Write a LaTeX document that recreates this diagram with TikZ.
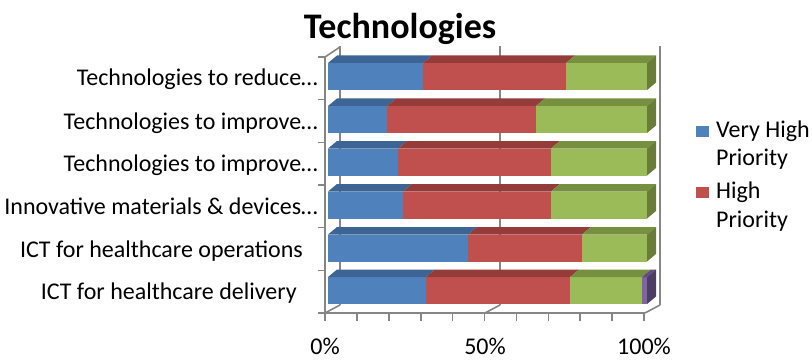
\documentclass[tikz,border=0pt]{standalone}
\usepackage{fontspec}
\setmainfont{Carlito}
\definecolor{cb}{HTML}{4F81BD}
\definecolor{cbtop}{HTML}{3C6494}
\definecolor{cr}{HTML}{C0504D}
\definecolor{crtop}{HTML}{953B39}
\definecolor{cg}{HTML}{9BBB59}
\definecolor{cgtop}{HTML}{76903F}
\definecolor{cgside}{HTML}{677D38}
\definecolor{cp}{HTML}{8064A2}
\definecolor{cptop}{HTML}{624C7E}
\definecolor{cpside}{HTML}{4D3C63}
\definecolor{axgray}{HTML}{868686}
\newcommand\barseg[4]{%
  \pgfmathsetmacro\bsxa{328+3.19*#2}%
  \pgfmathsetmacro\bsxb{328+3.19*#3}%
  \fill[#4] (\bsxa,#1) rectangle (\bsxb,#1+27);
  \fill[#4top] (\bsxa,#1) -- (\bsxb,#1) -- (\bsxb+9,#1-7.5) -- (\bsxa+9,#1-7.5) -- cycle;
}
\newcommand\barend[2]{%
  \fill[#2side] (647,#1) -- (656,#1-7.5) -- (656,#1+19.5) -- (647,#1+27) -- cycle;
}
\tikzset{
  ax/.style={draw=axgray, line width=1.6pt},
  lbl/.style={font=\fontsize{24}{28}\selectfont, inner sep=0pt, anchor=base east},
  leg/.style={font=\fontsize{24}{28}\selectfont, inner sep=0pt, anchor=base west},
  pct/.style={font=\fontsize{24}{28}\selectfont, inner sep=0pt, anchor=base}
}
\begin{document}
\begin{tikzpicture}[x=1pt,y=-1pt]
\useasboundingbox (0,0) rectangle (812,361);
% title
\node[font=\bfseries\fontsize{36}{40}\selectfont, inner sep=0pt, anchor=base] (title) at (400,39) {Technologies};
% back wall gridlines
\foreach \gx in {340,500,660} \draw[ax] (\gx,46) -- (\gx,305);
% left wall
\draw[ax] (325,57) -- (340,47);
\draw[ax] (325,57) -- (325,321);
% floor
\draw[ax] (318,313) -- (645,313);
\draw[ax] (325,313) -- (340,305);
\draw[ax] (485,313) -- (500,305);
\draw[ax] (645,313) -- (660,305);
\foreach \k in {0,...,6} \draw[ax] (318,57+42.67*\k) -- (325,57+42.67*\k);
\foreach \i in {1,...,10} \draw[ax] (325+31.9*\i,313) -- (325+31.9*\i,321);
% bars
\barseg{63}{0}{29.8}{cb}\barseg{63}{29.8}{74.6}{cr}\barseg{63}{74.6}{100}{cg}\barend{63}{cg}
\barseg{106}{0}{18.5}{cb}\barseg{106}{18.5}{65.2}{cr}\barseg{106}{65.2}{100}{cg}\barend{106}{cg}
\barseg{148.5}{0}{21.9}{cb}\barseg{148.5}{21.9}{69.9}{cr}\barseg{148.5}{69.9}{100}{cg}\barend{148.5}{cg}
\barseg{191.5}{0}{23.5}{cb}\barseg{191.5}{23.5}{69.9}{cr}\barseg{191.5}{69.9}{100}{cg}\barend{191.5}{cg}
\barseg{234.5}{0}{43.9}{cb}\barseg{234.5}{43.9}{79.6}{cr}\barseg{234.5}{79.6}{100}{cg}\barend{234.5}{cg}
\barseg{277}{0}{30.7}{cb}\barseg{277}{30.7}{75.9}{cr}\barseg{277}{75.9}{98.4}{cg}\barseg{277}{98.4}{100}{cp}\barend{277}{cp}
% category labels
\node[lbl] (c1) at (318,86) {Technologies to reduce…};
\node[lbl] (c2) at (318,129) {Technologies to improve…};
\node[lbl] (c3) at (318,171.5) {Technologies to improve…};
\node[lbl] (c4) at (318,214) {Innovative materials \& devices…};
\node[lbl] (c5) at (303,257) {ICT for healthcare operations};
\node[lbl] (c6) at (297,299.5) {ICT for healthcare delivery};
% value axis labels
\node[pct] (p0) at (325,354) {0\%};
\node[pct] (p50) at (485,354) {50\%};
\node[pct] (p100) at (644,354) {100\%};
% legend
\fill[cb] (696,126) rectangle (709,137);
\node[leg] (l1a) at (716,137) {Very High};
\node[leg] (l1b) at (716,165) {Priority};
\fill[cr] (696,187) rectangle (709,198);
\node[leg] (l2a) at (716,198) {High};
\node[leg] (l2b) at (716,227) {Priority};
\end{tikzpicture}
\end{document}
